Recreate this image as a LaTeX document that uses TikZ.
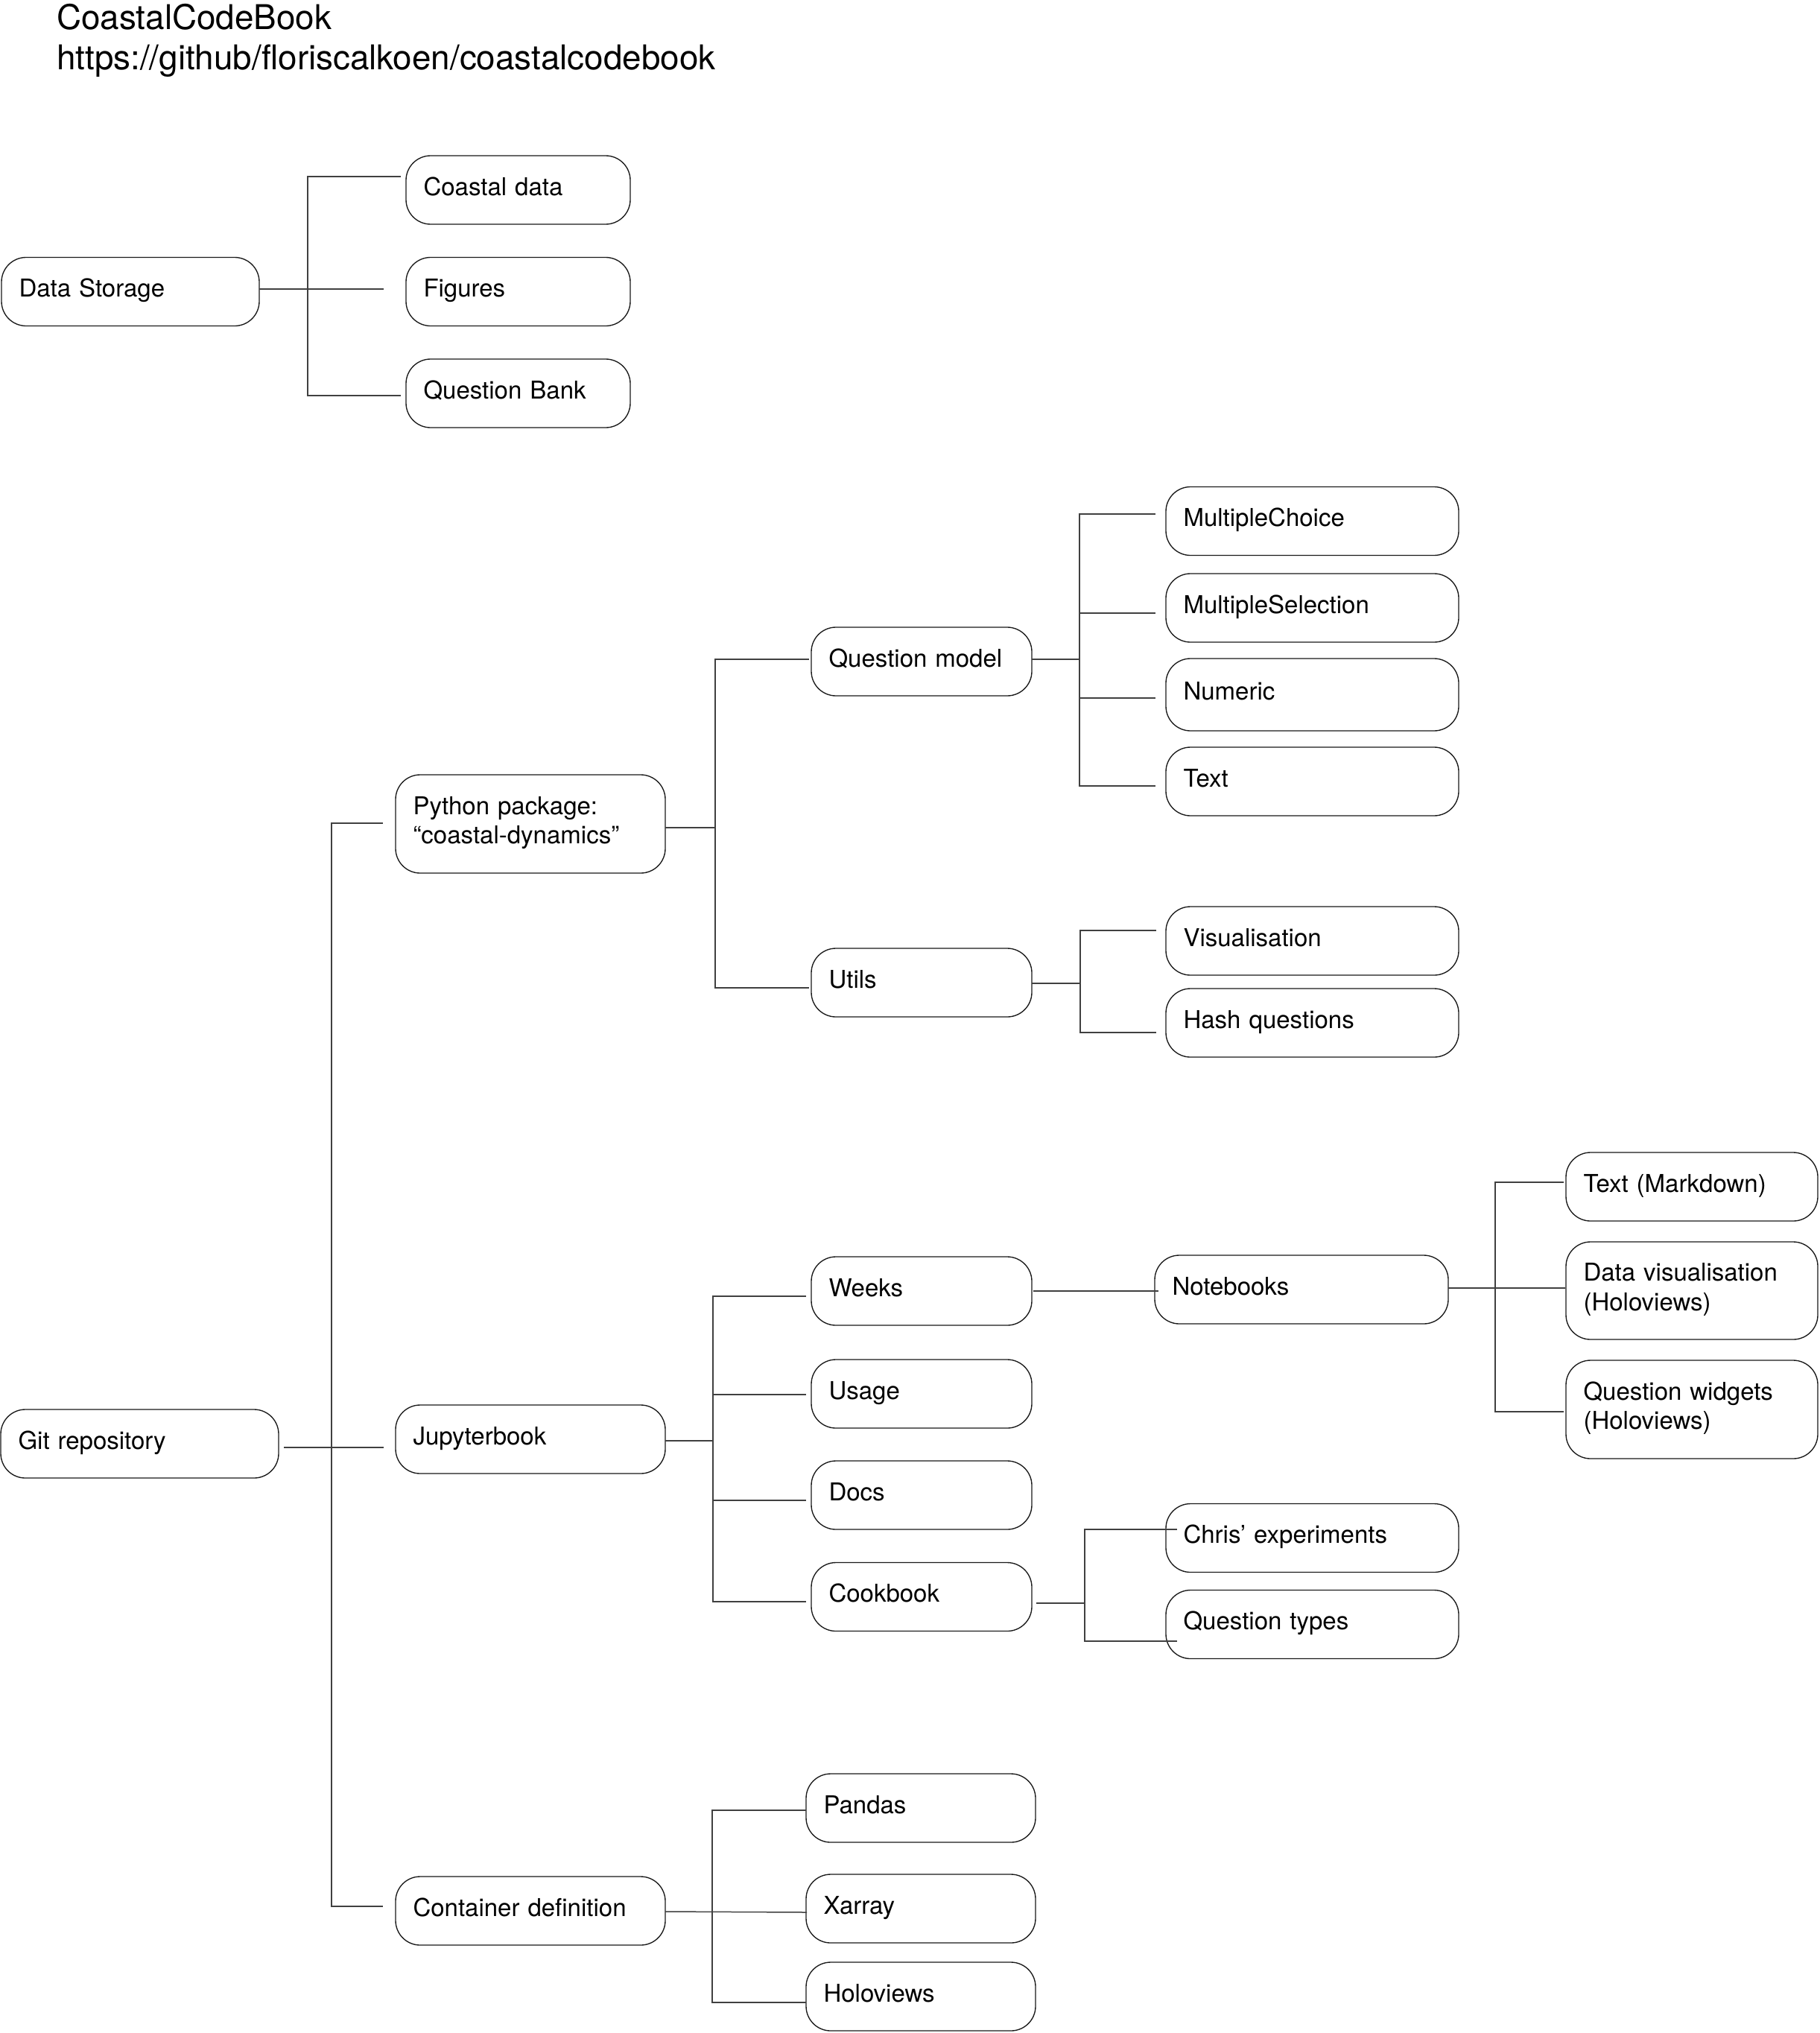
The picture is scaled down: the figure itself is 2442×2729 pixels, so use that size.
\documentclass[tikz,border=0pt]{standalone}
\usepackage{fontspec}
\setmainfont{TeX Gyre Heros}[Ligatures=NoCommon]
\usetikzlibrary{calc}
\newcommand\tstrut{\rule[-10.75pt]{0pt}{35.5pt}}
\begin{document}
\begin{tikzpicture}[x=1pt,y=-1pt,
  box/.style={draw=black!90, line width=1.35pt, rounded corners=33pt, outer sep=0pt,
    inner xsep=23.5pt, inner ysep=0pt, align=left, minimum height=92pt,
    font=\fontsize{33}{39.6}\selectfont, execute at begin node=\tstrut},
  conn/.style={draw=black!75, line width=1.5pt},
  titletext/.style={anchor=base west, inner sep=0pt, font=\fontsize{45.8}{54}\selectfont},
  wDS/.style={minimum width=346pt, text width=299pt},
  wCD/.style={minimum width=301pt, text width=254pt},
  wQM/.style={minimum width=296pt, text width=249pt},
  wMC/.style={minimum width=393pt, text width=346pt},
  wPP/.style={minimum width=362pt, text width=315pt},
  wTM/.style={minimum width=338pt, text width=291pt},
  wNB/.style={minimum width=394pt, text width=347pt},
  wGit/.style={minimum width=373pt, text width=326pt},
  wPD/.style={minimum width=308pt, text width=261pt}]

\path[fill=white] (0,0) rectangle (2442,2729);
\useasboundingbox (0,0) rectangle (2442,2729);

% title
\node[titletext] (t1) at (76,40) {CoastalCodeBook};
\node[titletext] (t2) at (76,94) {https://github/floriscalkoen/coastalcodebook};

% nodes
\node[box,wDS] (ds) at (175,391.5) {Data Storage};
\node[box,wCD] (cd) at (695.5,255) {Coastal data};
\node[box,wCD] (fig) at (695.5,391.5) {Figures};
\node[box,wCD] (qb) at (695.5,528) {Question Bank};

\node[box,wQM] (qm) at (1237,888) {Question model};
\node[box,wMC] (mc) at (1761.5,699.5) {MultipleChoice};
\node[box,wMC] (ms) at (1761.5,816) {MultipleSelection};
\node[box,wMC,minimum height=97pt] (num) at (1761.5,932.5) {Numeric};
\node[box,wMC] (txt) at (1761.5,1049) {Text};
\node[box,wPP,minimum height=132pt] (pp) at (712,1106) {Python package:\\\tstrut “coastal-dynamics”};
\node[box,wQM] (ut) at (1237,1319) {Utils};
\node[box,wMC] (vis) at (1761.5,1263) {Visualisation};
\node[box,wMC] (hq) at (1761.5,1373) {Hash questions};

\node[box,wTM] (tm) at (2271,1593) {Text (Markdown)};
\node[box,wTM,minimum height=131pt] (dv) at (2271,1732.5) {Data visualisation\\\tstrut (Holoviews)};
\node[box,wTM,minimum height=132pt] (qw) at (2271,1892) {Question widgets\\\tstrut (Holoviews)};
\node[box,wQM] (wk) at (1237,1733) {Weeks};
\node[box,wNB] (nb) at (1747,1731) {Notebooks};
\node[box,wQM] (us) at (1237,1871) {Usage};
\node[box,wGit] (git) at (187.5,1938) {Git repository};
\node[box,wPP] (jb) at (712,1932) {Jupyterbook};
\node[box,wQM] (doc) at (1237,2007) {Docs};
\node[box,wQM] (cb) at (1237,2143.5) {Cookbook};
\node[box,wMC] (ce) at (1761.5,2064.5) {Chris’ experiments};
\node[box,wMC] (qt) at (1761.5,2180.5) {Question types};

\node[box,wPD] (pd) at (1236,2427) {Pandas};
\node[box,wPD] (xa) at (1236,2562) {Xarray};
\node[box,wPD] (hv) at (1236,2680) {Holoviews};
\node[box,wPP] (cdf) at (712,2565) {Container definition};

% junction columns
\coordinate (jA) at (413,0);
\coordinate (jB) at (445,0);
\coordinate (jC) at (960,0);
\coordinate (jD) at (1449,0);
\coordinate (jE) at (1450,0);
\coordinate (jF) at (957,0);
\coordinate (jH) at (2007,0);
\coordinate (jI) at (1456,0);
\coordinate (jJ) at (956,0);

% Data Storage
\draw[conn] ($(ds.east)+(0,-3.5)$) -- ($(fig.west |- ds.east)+(-30,-3.5)$);
\draw[conn] ($(cd.west)+(-7,-18)$) -- ($(jA |- cd.west)+(0,-18)$) -- ($(jA |- qb.west)+(0,3)$) -- ($(qb.west)+(-7,3)$);

% Git repository
\draw[conn] ($(git.east)+(7,5)$) -- ($(jb.west |- git.east)+(-16,5)$);
\draw[conn] ($(pp.west)+(-17,-1)$) -- ($(jB |- pp.west)+(0,-1)$) -- ($(jB |- cdf.west)+(0,-6)$) -- ($(cdf.west)+(-17,-6)$);

% Python package
\draw[conn] ($(pp.east)+(0,5)$) -- ($(jC |- pp.east)+(0,5)$);
\draw[conn] ($(qm.west)+(-3,-3)$) -- ($(jC |- qm.west)+(0,-3)$) -- ($(jC |- ut.west)+(0,7)$) -- ($(ut.west)+(-3,7)$);

% Question model
\draw[conn] ($(qm.east)+(0,-3)$) -- ($(jD |- qm.east)+(0,-3)$);
\draw[conn] ($(mc.west)+(-14,-9.5)$) -- ($(jD |- mc.west)+(0,-9.5)$) -- ($(jD |- txt.west)+(0,6)$) -- ($(txt.west)+(-14,6)$);
\draw[conn] ($(jD |- ms.west)+(0,7)$) -- ($(ms.west)+(-14,7)$);
\draw[conn] ($(jD |- num.west)+(0,4.5)$) -- ($(num.west)+(-14,4.5)$);

% Utils
\draw[conn] ($(ut.east)+(0,1)$) -- ($(jE |- ut.east)+(0,1)$);
\draw[conn] ($(vis.west)+(-13,-14)$) -- ($(jE |- vis.west)+(0,-14)$) -- ($(jE |- hq.west)+(0,13)$) -- ($(hq.west)+(-13,13)$);

% Jupyterbook
\draw[conn] ($(jb.east)+(0,2)$) -- ($(jF |- jb.east)+(0,2)$);
\draw[conn] ($(wk.west)+(-7,7)$) -- ($(jF |- wk.west)+(0,7)$) -- ($(jF |- cb.west)+(0,6.5)$) -- ($(cb.west)+(-7,6.5)$);
\draw[conn] ($(jF |- us.west)+(0,1)$) -- ($(us.west)+(-7,1)$);
\draw[conn] ($(jF |- doc.west)+(0,7)$) -- ($(doc.west)+(-7,7)$);

% Weeks -> Notebooks
\draw[conn] ($(wk.east)+(2,0)$) -- ($(nb.west)+(5,2)$);

% Notebooks
\draw[conn] ($(nb.east)+(0,-2)$) -- ($(dv.west)+(-1,-3.5)$);
\draw[conn] ($(tm.west)+(-3,-6)$) -- ($(jH |- tm.west)+(0,-6)$) -- ($(jH |- qw.west)+(0,3)$) -- ($(qw.west)+(-3,3)$);

% Cookbook
\draw[conn] ($(cb.east)+(6,8.5)$) -- ($(jI |- cb.east)+(0,8.5)$);
\draw[conn] ($(ce.west)+(15,-11.5)$) -- ($(jI |- ce.west)+(0,-11.5)$) -- ($(jI |- qt.west)+(0,22.5)$) -- ($(qt.west)+(15,22.5)$);

% Container definition
\draw[conn] ($(cdf.east)+(0,1)$) -- ($(xa.west)+(1,5)$);
\draw[conn] ($(pd.west)+(0,3)$) -- ($(jJ |- pd.west)+(0,3)$) -- ($(jJ |- hv.west)+(0,8)$) -- ($(hv.west)+(0,8)$);

\end{tikzpicture}
\end{document}
